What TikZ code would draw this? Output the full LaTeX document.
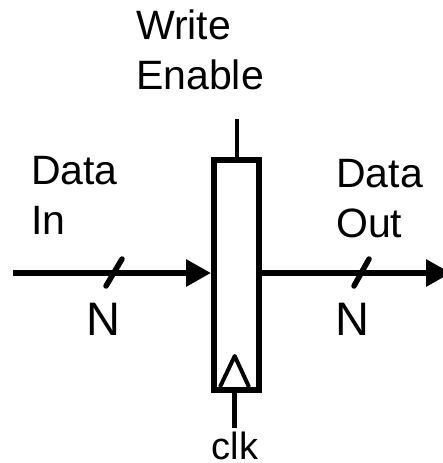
\documentclass[tikz,border=0pt]{standalone}
\usepackage{fontspec}
\setmainfont{Liberation Sans}
\usetikzlibrary{arrows.meta, positioning, calc}

\begin{document}
\begin{tikzpicture}[
    x=1pt, y=-1pt,
    reg_node/.style={rectangle, draw, line width=6pt, minimum width=44.6pt, minimum height=229.5pt, inner sep=0pt},
    txt_node/.style={inner sep=0pt, align=left, font=\fontsize{41}{50}\selectfont},
    wire/.style={line width=5pt},
    bus/.style={line width=6pt, -{Triangle[length=25pt, width=26pt]}},
    slash/.style={line width=5.5pt, line cap=round}
    ]
    \useasboundingbox (0,0) rectangle (442,463);

    % Register and clock mark
    \node[reg_node] (reg) at (236.3,274.75) {};
    \coordinate (ckl) at (220,387);
    \coordinate (ckt) at (234.7,356);
    \coordinate (ckr) at (249,387);
    \draw[line width=4pt, line join=round] (ckl) -- (ckt) -- (ckr);

    % Wire ends
    \coordinate (din) at (13,273);
    \coordinate (dout) at (451,273);
    \coordinate (we) at (237,119);
    \coordinate (ck) at (234.7,428);
    \coordinate (sa) at (106,286);
    \coordinate (sb) at (122,259);
    \coordinate (sc) at (354,286);
    \coordinate (sd) at (369,259);

    % Labels
    \node[txt_node, anchor=south west] (wlabel) at (136,90) {Write\\Enable};
    \node[txt_node, anchor=south west] (ilabel) at (31,235) {Data\\In};
    \node[txt_node, anchor=south west] (olabel) at (336,238) {Data\\Out};
    \node[txt_node, font=\fontsize{47}{50}\selectfont, anchor=south west] (nin) at (86,336) {N};
    \node[txt_node, font=\fontsize{47}{50}\selectfont, anchor=south west] (nout) at (335.5,336) {N};
    \node[txt_node, font=\fontsize{38}{50}\selectfont, anchor=south] (cklabel) at (235,460) {clk};

    % Arrows
    \draw[bus] (din) -- (din -| reg.west);
    \draw[bus] (dout -| reg.east) -- (dout);
    \draw[wire, line width=4pt] (we) -- (we |- reg.north);
    \draw[wire] (ck |- reg.south) -- (ck);
    \draw[slash] (sa) -- (sb);
    \draw[slash] (sc) -- (sd);
\end{tikzpicture}
\end{document}
